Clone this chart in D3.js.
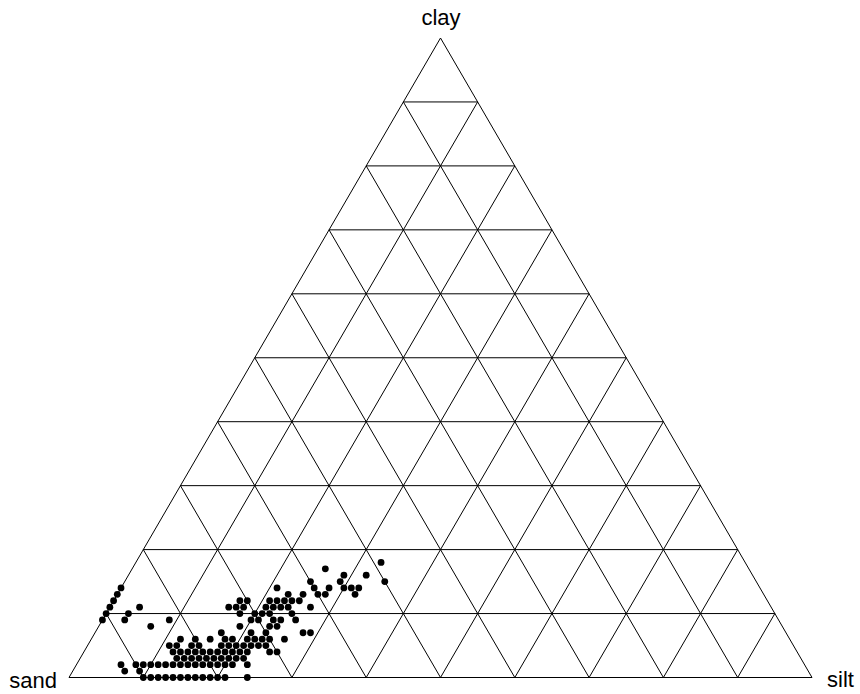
<!DOCTYPE html>
<html>
<head>
<meta charset="utf-8">
<script src="https://cdn.jsdelivr.net/npm/d3@7"></script>
<style>
  body { margin: 0; background: #fff; }
  text { font-family: "Liberation Sans", Arial, sans-serif; }
</style>
</head>
<body>
<script>
// corner labels
const corners = ["sand", "silt", "clay"];
const gridSteps = [10, 20, 30, 40, 50, 60, 70, 80, 90];

// samples (percent); sand = 100 - silt - clay
const clay = [
  18,
  17,
  16, 16,
  15, 15, 15,
  14, 14, 14, 14, 14, 14, 14,
  13, 13, 13, 13, 13, 13,
  12, 12, 12, 12, 12, 12, 12, 12,
  11, 11, 11, 11, 11, 11, 11, 11, 11, 11,
  10, 10, 10, 10, 10, 10, 10,
  9, 9, 9, 9, 9, 9, 9, 9,
  8, 8, 8, 8,
  7, 7, 7, 7, 7,
  6, 6, 6, 6, 6, 6, 6, 6, 6, 6,
  5, 5, 5, 5, 5, 5, 5, 5, 5, 5, 5,
  4, 4, 4, 4, 4, 4, 4, 4, 4, 4, 4, 4, 4,
  3, 3, 3, 3, 3, 3, 3, 3, 3, 3,
  2, 2, 2, 2, 2, 2, 2, 2, 2, 2, 2, 2, 2, 2, 2, 2,
  1, 1,
  0, 0, 0, 0, 0, 0, 0, 0, 0, 0, 0, 0, 0
];
const silt = [
  33,
  26,
  29, 32,
  25, 29, 35,
  0, 21, 26, 28, 30, 31, 32,
  0, 23, 25, 27, 28, 32,
  0, 17, 18, 21, 22, 23, 24, 25,
  0, 4, 16, 17, 18, 21, 22, 23, 24, 27,
  0, 3, 18, 20, 21, 22, 25,
  0, 3, 9, 20, 21, 23, 24, 26,
  7, 19, 23, 24,
  17, 21, 23, 28, 29,
  12, 14, 16, 18, 19, 21, 22, 23, 24, 26,
  11, 12, 14, 15, 18, 19, 20, 21, 22, 23, 24,
  12, 13, 14, 15, 16, 17, 18, 19, 20, 21, 22, 25, 26,
  13, 14, 15, 16, 17, 18, 19, 20, 21, 22,
  6, 8, 9, 10, 11, 12, 13, 14, 15, 16, 17, 18, 19, 20, 21, 23,
  7, 9,
  10, 11, 12, 13, 14, 15, 16, 17, 18, 19, 20, 21, 24
];
const sand = clay.map((c, i) => 100 - c - silt[i]);

const width = 860, height = 694;

// ternary -> cartesian through two linear scales
const x = d3.scaleLinear().domain([0, 100]).range([69, 812]);
const y = d3.scaleLinear().domain([0, 100]).range([677.5, 38]);
const px = (s, t, c) => x(t + c / 2);
const py = (s, t, c) => y(c);

const svg = d3.select("body").append("svg")
  .attr("width", width)
  .attr("height", height);

const g = svg.append("g");

// grid: constant clay, constant silt, constant sand
let lines = [];
gridSteps.forEach(v => {
  lines.push([[100 - v, 0, v], [0, 100 - v, v]]);
  lines.push([[100 - v, v, 0], [0, v, 100 - v]]);
  lines.push([[v, 100 - v, 0], [v, 0, 100 - v]]);
});

g.selectAll("line.grid")
  .data(lines)
  .enter().append("line")
  .attr("class", "grid")
  .attr("x1", d => px(...d[0]))
  .attr("y1", d => py(...d[0]))
  .attr("x2", d => px(...d[1]))
  .attr("y2", d => py(...d[1]))
  .attr("stroke", "#000")
  .attr("stroke-width", 1);

// outer triangle
const outer = [[100, 0, 0], [0, 100, 0], [0, 0, 100]];
g.append("path")
  .attr("d", d3.line().x(d => px(...d)).y(d => py(...d))(outer) + "Z")
  .attr("fill", "none")
  .attr("stroke", "#000")
  .attr("stroke-width", 1);

// samples
g.selectAll("circle")
  .data(clay.map((c, i) => [sand[i], silt[i], c]))
  .enter().append("circle")
  .attr("cx", d => px(...d))
  .attr("cy", d => py(...d))
  .attr("r", 3.4)
  .attr("fill", "#000");

// labels
svg.append("text").attr("x", 57).attr("y", 688).attr("text-anchor", "end")
  .attr("font-size", 22).text(corners[0]);
svg.append("text").attr("x", 827).attr("y", 687).attr("text-anchor", "start")
  .attr("font-size", 22).text(corners[1]);
svg.append("text").attr("x", 441).attr("y", 25).attr("text-anchor", "middle")
  .attr("font-size", 22).text(corners[2]);
</script>
</body>
</html>
